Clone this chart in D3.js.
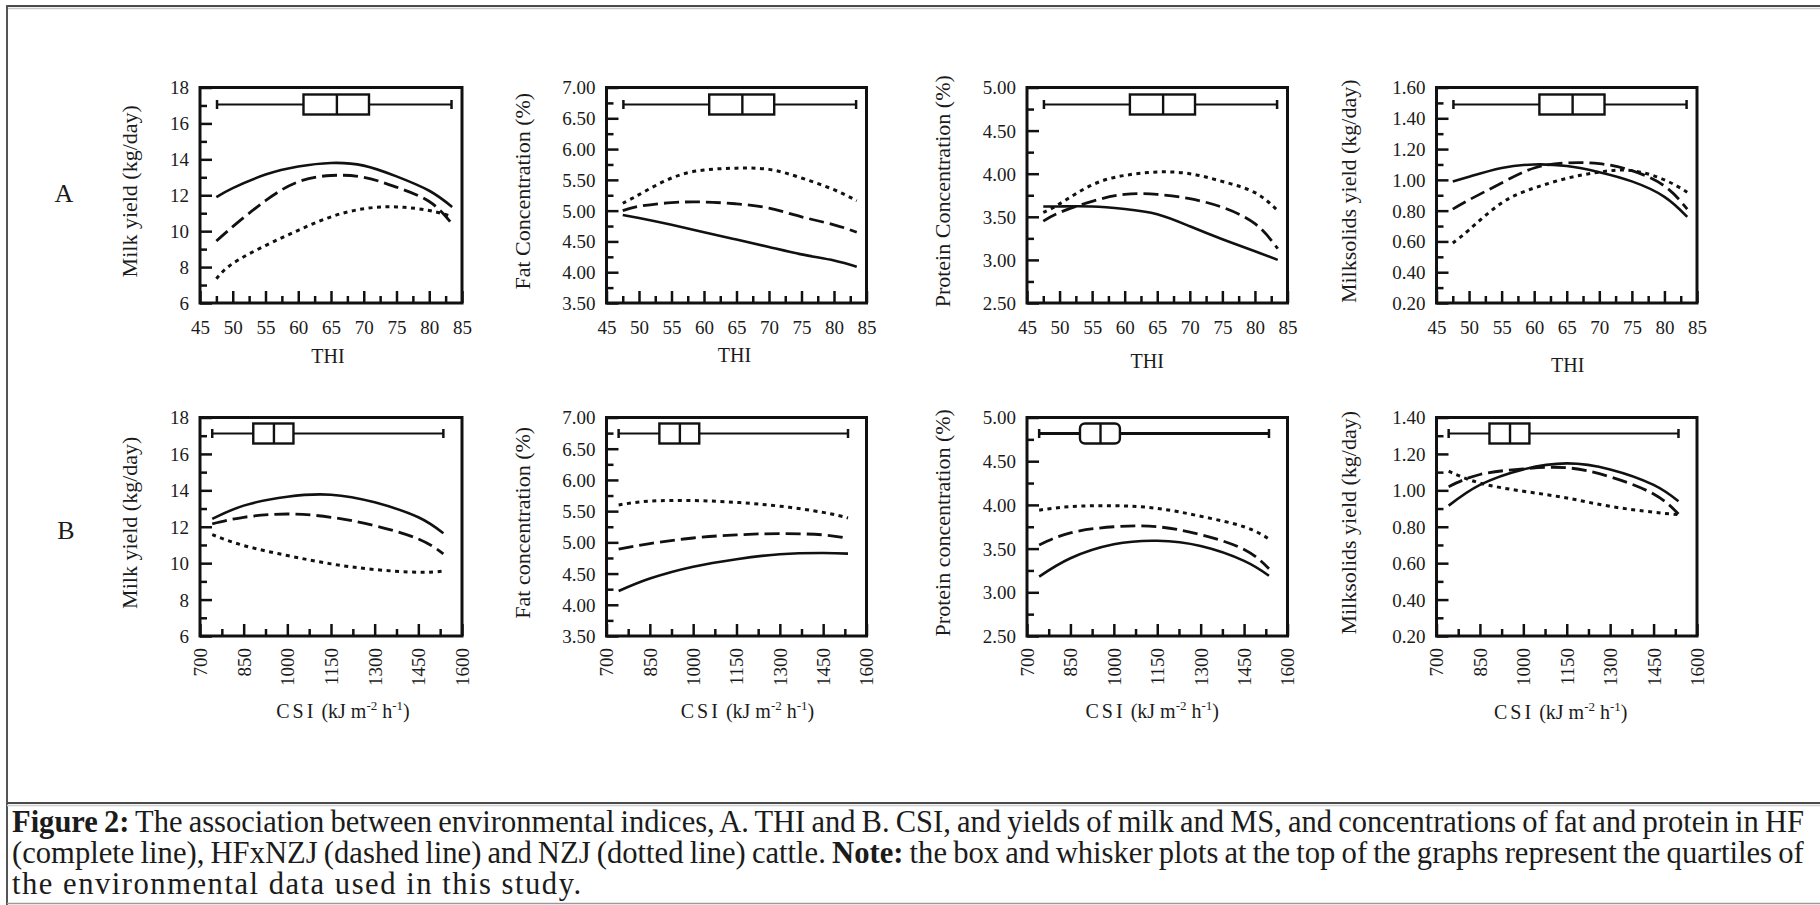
<!DOCTYPE html>
<html>
<head>
<meta charset="utf-8">
<script src="https://cdn.jsdelivr.net/npm/d3@7"></script>
<style>
  html, body { margin: 0; padding: 0; background: #fff; }
  svg { display: block; }
  text { font-family: "Liberation Serif", "Times New Roman", serif; fill: #1b1b1b; }
</style>
</head>
<body>
<svg id="fig" width="1820" height="905"></svg>
<script>
// ---- sample points of the fitted curves ----
const thiX = [47.5, 50, 55, 60, 65, 70, 75, 80, 83.5];
const csiX = [742, 850, 1000, 1150, 1300, 1450, 1536];

// THI panels: HF (solid), HFxNZJ (dashed), NZJ (dotted)
const milkThiHF    = [11.9, 12.4, 13.15, 13.6, 13.8, 13.65, 13.05, 12.25, 11.35];
const milkThiCross = [9.45, 10.25, 11.7, 12.75, 13.1, 13.0, 12.45, 11.65, 10.4];
const milkThiNZJ   = [7.35, 8.2, 9.2, 10.05, 10.8, 11.25, 11.35, 11.15, 10.8];

const fatThiHF    = [4.93, 4.88, 4.77, 4.65, 4.53, 4.41, 4.29, 4.19, 4.09];
const fatThiCross = [5.0, 5.07, 5.13, 5.14, 5.11, 5.04, 4.9, 4.77, 4.65];
const fatThiNZJ   = [5.12, 5.26, 5.53, 5.66, 5.69, 5.67, 5.53, 5.34, 5.16];

const protThiHF    = [3.62, 3.62, 3.62, 3.59, 3.53, 3.39, 3.24, 3.1, 3.0];
const protThiCross = [3.45, 3.55, 3.68, 3.76, 3.76, 3.71, 3.61, 3.42, 3.13];
const protThiNZJ   = [3.55, 3.65, 3.87, 3.98, 4.02, 4.0, 3.91, 3.78, 3.57];

const msThiHF    = [0.99, 1.02, 1.077, 1.1, 1.09, 1.05, 0.99, 0.89, 0.76];
const msThiCross = [0.81, 0.87, 0.98, 1.077, 1.11, 1.105, 1.06, 0.96, 0.81];
const msThiNZJ   = [0.59, 0.675, 0.85, 0.947, 1.01, 1.05, 1.06, 1.0, 0.92];

// CSI panels
const milkCsiHF    = [12.43, 13.16, 13.65, 13.76, 13.34, 12.52, 11.64];
const milkCsiCross = [12.16, 12.52, 12.7, 12.52, 12.06, 11.33, 10.51];
const milkCsiNZJ   = [11.57, 10.97, 10.42, 9.96, 9.65, 9.5, 9.56];

const fatCsiHF    = [4.22, 4.42, 4.61, 4.73, 4.81, 4.83, 4.82];
const fatCsiCross = [4.89, 4.98, 5.07, 5.12, 5.14, 5.12, 5.06];
const fatCsiNZJ   = [5.6, 5.66, 5.67, 5.64, 5.58, 5.48, 5.39];

const protCsiHF    = [3.18, 3.39, 3.55, 3.59, 3.53, 3.36, 3.19];
const protCsiCross = [3.54, 3.68, 3.75, 3.75, 3.66, 3.49, 3.27];
const protCsiNZJ   = [3.94, 3.98, 3.99, 3.96, 3.87, 3.75, 3.61];

const msCsiHF    = [0.916, 1.03, 1.115, 1.148, 1.115, 1.03, 0.94];
const msCsiCross = [1.02, 1.087, 1.118, 1.124, 1.074, 0.98, 0.87];
const msCsiNZJ   = [1.105, 1.04, 0.995, 0.958, 0.912, 0.88, 0.866];

// box-and-whisker summaries of the environmental indices: min, Q1, median, Q3, max
const thiBox = [47.6, 60.8, 65.9, 70.8, 83.4];
const csiBox = [742, 883, 954, 1021, 1536];

// axis tick values
const thiTicks = [45, 50, 55, 60, 65, 70, 75, 80, 85];
const csiTicks = [700, 850, 1000, 1150, 1300, 1450, 1600];
const milkTicks = [6, 8, 10, 12, 14, 16, 18];
const fatTicks = [3.5, 4.0, 4.5, 5.0, 5.5, 6.0, 6.5, 7.0];
const protTicks = [2.5, 3.0, 3.5, 4.0, 4.5, 5.0];
const msThiTicks = [0.2, 0.4, 0.6, 0.8, 1.0, 1.2, 1.4, 1.6];
const msCsiTicks = [0.2, 0.4, 0.6, 0.8, 1.0, 1.2, 1.4];

// axis titles
const yTitlesA = ["Milk yield (kg/day)", "Fat Concentration (%)", "Protein Concentration (%)", "Milksolids yield (kg/day)"];
const yTitlesB = ["Milk yield (kg/day)", "Fat concentration (%)", "Protein concentration (%)", "Milksolids yield (kg/day)"];
const rowLetters = ["A", "B"];
const breeds = ["HF", "HFxNZJ", "NZJ"];

// ---- layout ----
const svg = d3.select("#fig");
const cols = [
  { left: 200, width: 262 },
  { left: 606.5, width: 260 },
  { left: 1027, width: 260.5 },
  { left: 1436.5, width: 260.5 }
];
const rows = [
  { top: 87.5, height: 215.5 },
  { top: 417.5, height: 218.5 }
];
const yTitleOffset = [71, 84, 85, 88];
const xTitleNudgeA = [{ dx: -3, dy: 60 }, { dx: -2, dy: 59 }, { dx: -10, dy: 65 }, { dx: 1, dy: 69 }];
const xTitleNudgeB = [{ dx: 12, dy: 82 }, { dx: 11, dy: 82 }, { dx: -5, dy: 82 }, { dx: -6, dy: 83 }];

const lineStyles = {
  HF:     { dash: null,   width: 2.6 },
  HFxNZJ: { dash: "15,6", width: 2.8 },
  NZJ:    { dash: "4,4.5", width: 3.0 }
};

const panels = [
  { row: 0, col: 0, xs: thiX, series: [milkThiHF, milkThiCross, milkThiNZJ], yTicks: milkTicks, fmt: d3.format("d") },
  { row: 0, col: 1, xs: thiX, series: [fatThiHF, fatThiCross, fatThiNZJ], yTicks: fatTicks, fmt: d3.format(".2f") },
  { row: 0, col: 2, xs: thiX, series: [protThiHF, protThiCross, protThiNZJ], yTicks: protTicks, fmt: d3.format(".2f") },
  { row: 0, col: 3, xs: thiX, series: [msThiHF, msThiCross, msThiNZJ], yTicks: msThiTicks, fmt: d3.format(".2f") },
  { row: 1, col: 0, xs: csiX, series: [milkCsiHF, milkCsiCross, milkCsiNZJ], yTicks: milkTicks, fmt: d3.format("d") },
  { row: 1, col: 1, xs: csiX, series: [fatCsiHF, fatCsiCross, fatCsiNZJ], yTicks: fatTicks, fmt: d3.format(".2f") },
  { row: 1, col: 2, xs: csiX, series: [protCsiHF, protCsiCross, protCsiNZJ], yTicks: protTicks, fmt: d3.format(".2f"), roundBox: true },
  { row: 1, col: 3, xs: csiX, series: [msCsiHF, msCsiCross, msCsiNZJ], yTicks: msCsiTicks, fmt: d3.format(".2f") }
];

// ---- outer frame and caption separator ----
const frame = svg.append("g");
frame.append("line").attr("x1", 7).attr("x2", 1820).attr("y1", 6).attr("y2", 6)
  .attr("stroke", "#4a4a4a").attr("stroke-width", 2.2);
frame.append("line").attr("x1", 7).attr("x2", 1820).attr("y1", 8.5).attr("y2", 8.5)
  .attr("stroke", "#c8c8c8").attr("stroke-width", 1.5);
frame.append("line").attr("x1", 7).attr("x2", 7).attr("y1", 5).attr("y2", 905)
  .attr("stroke", "#555").attr("stroke-width", 2);
frame.append("line").attr("x1", 7).attr("x2", 1820).attr("y1", 803).attr("y2", 803)
  .attr("stroke", "#4a4a4a").attr("stroke-width", 2);
frame.append("line").attr("x1", 7).attr("x2", 1820).attr("y1", 805.5).attr("y2", 805.5)
  .attr("stroke", "#cfcfcf").attr("stroke-width", 1.5);
frame.append("line").attr("x1", 7).attr("x2", 1820).attr("y1", 903.5).attr("y2", 903.5)
  .attr("stroke", "#9a9a9a").attr("stroke-width", 1.5);

// ---- row letters ----
svg.append("text").attr("x", 64).attr("y", 202).attr("text-anchor", "middle")
  .style("font-size", "26px").text(rowLetters[0]);
svg.append("text").attr("x", 66).attr("y", 539).attr("text-anchor", "middle")
  .style("font-size", "26px").text(rowLetters[1]);

// ---- panels ----
panels.forEach(p => {
  const c = cols[p.col], r = rows[p.row];
  const isThi = p.row === 0;
  const g = svg.append("g").attr("transform", `translate(${c.left},${r.top})`);

  const xDomain = isThi ? [45, 85] : [700, 1600];
  const x = d3.scaleLinear().domain(xDomain).range([0, c.width]);
  const yDomain = d3.extent(p.yTicks);
  const y = d3.scaleLinear().domain(yDomain).range([r.height, 0]);

  const xTickVals = isThi ? thiTicks : csiTicks;
  const xStep = xTickVals[1] - xTickVals[0];
  const xMinor = d3.range(xDomain[0] + xStep / 2, xDomain[1], xStep);
  const yStep = p.yTicks[1] - p.yTicks[0];
  const yMinor = d3.range(yDomain[0] + yStep / 2, yDomain[1], yStep);

  // minor ticks
  const yMinorAxis = d3.axisLeft(y).tickValues(yMinor).tickSize(-7).tickFormat("");
  g.append("g").call(yMinorAxis).call(s => s.select(".domain").remove())
    .selectAll("line").attr("stroke", "#111").attr("stroke-width", 2.5);
  const xMinorAxis = d3.axisBottom(x).tickValues(xMinor).tickSize(-7).tickFormat("");
  g.append("g").attr("transform", `translate(0,${r.height})`).call(xMinorAxis)
    .call(s => s.select(".domain").remove())
    .selectAll("line").attr("stroke", "#111").attr("stroke-width", 2.5);

  // major ticks with labels
  const yAxis = d3.axisLeft(y).tickValues(p.yTicks).tickSize(-12).tickPadding(11).tickFormat(p.fmt);
  const gy = g.append("g").call(yAxis);
  gy.select(".domain").remove();
  gy.selectAll("line").attr("stroke", "#111").attr("stroke-width", 2.5);
  gy.selectAll("text").attr("fill", "#1b1b1b").style("font-size", "19px")
    .style("font-family", '"Liberation Serif", serif').attr("dy", "0.34em");

  const xAxis = d3.axisBottom(x).tickValues(xTickVals).tickSize(-12).tickPadding(18).tickFormat(d3.format("d"));
  const gx = g.append("g").attr("transform", `translate(0,${r.height})`).call(xAxis);
  gx.select(".domain").remove();
  gx.selectAll("line").attr("stroke", "#111").attr("stroke-width", 2.5);
  gx.selectAll("text").attr("fill", "#1b1b1b").style("font-size", "19px")
    .style("font-family", '"Liberation Serif", serif');
  if (!isThi) {
    gx.selectAll("text")
      .attr("transform", "rotate(-90)")
      .attr("text-anchor", "end")
      .attr("x", -12).attr("y", 0).attr("dy", "0.34em");
  }

  // plot frame
  g.append("rect").attr("x", 0).attr("y", 0).attr("width", c.width).attr("height", r.height)
    .attr("fill", "none").attr("stroke", "#111").attr("stroke-width", 3);

  // curves
  const line = d3.line().curve(d3.curveNatural)
    .x(d => x(d[0])).y(d => y(d[1]));
  p.series.forEach((vals, i) => {
    const st = lineStyles[breeds[i]];
    g.append("path")
      .datum(p.xs.map((xv, k) => [xv, vals[k]]))
      .attr("d", line)
      .attr("fill", "none")
      .attr("stroke", "#111")
      .attr("stroke-width", st.width)
      .attr("stroke-dasharray", st.dash)
      .attr("stroke-linecap", "butt");
  });

  // box and whisker of the environmental index
  const b = isThi ? thiBox : csiBox;
  const wy = isThi ? 17 : 16;
  const bTop = wy - 10, bH = 20;
  const bw = g.append("g").attr("stroke", "#111").attr("fill", "none");
  const wWidth = p.roundBox ? 3 : 2.2;
  bw.append("line").attr("x1", x(b[0])).attr("x2", x(b[1])).attr("y1", wy).attr("y2", wy).attr("stroke-width", wWidth);
  bw.append("line").attr("x1", x(b[3])).attr("x2", x(b[4])).attr("y1", wy).attr("y2", wy).attr("stroke-width", wWidth);
  [b[0], b[4]].forEach(v => {
    bw.append("line").attr("x1", x(v)).attr("x2", x(v)).attr("y1", wy - 4.5).attr("y2", wy + 4.5).attr("stroke-width", 2.5);
  });
  bw.append("rect").attr("x", x(b[1])).attr("y", bTop).attr("width", x(b[3]) - x(b[1])).attr("height", bH)
    .attr("rx", p.roundBox ? 5 : 0).attr("fill", "#fff").attr("stroke-width", 2.4);
  bw.append("line").attr("x1", x(b[2])).attr("x2", x(b[2])).attr("y1", bTop).attr("y2", bTop + bH).attr("stroke-width", 2.4);

  // y-axis title
  const yTitle = (isThi ? yTitlesA : yTitlesB)[p.col];
  g.append("text")
    .attr("transform", `translate(${-yTitleOffset[p.col]},${r.height / 2 - 4}) rotate(-90)`)
    .attr("text-anchor", "middle").attr("dy", "0.35em")
    .style("font-size", "22px").text(yTitle);

  // x-axis title
  const nudge = (isThi ? xTitleNudgeA : xTitleNudgeB)[p.col];
  const xt = g.append("text")
    .attr("x", c.width / 2 + nudge.dx).attr("y", r.height + nudge.dy)
    .attr("text-anchor", "middle").style("font-size", "20px");
  if (isThi) {
    xt.text("THI");
  } else {
    xt.append("tspan").attr("letter-spacing", "3px").text("CSI");
    xt.append("tspan").text(" (kJ m");
    xt.append("tspan").attr("dy", -8).style("font-size", "13px").text("-2");
    xt.append("tspan").attr("dy", 8).text(" h");
    xt.append("tspan").attr("dy", -8).style("font-size", "13px").text("-1");
    xt.append("tspan").attr("dy", 8).text(")");
  }
});

// ---- caption: first two lines justified, last line set with the same glyph scale ----
const capLeft = 12;
const capRights = [1805, 1805, 583];
const capLines = [
  [{ b: true, t: "Figure 2:" }, { b: false, t: " The association between environmental indices, A. THI and B. CSI, and yields of milk and MS, and concentrations of fat and protein in HF" }],
  [{ b: false, t: "(complete line), HFxNZJ (dashed line) and NZJ (dotted line) cattle. " }, { b: true, t: "Note:" }, { b: false, t: " the box and whisker plots at the top of the graphs represent the quartiles of" }],
  [{ b: false, t: "the environmental data used in this study." }]
];
const capBase = [832, 863, 894];
let glyphScale = 1;
capLines.forEach((parts, i) => {
  const target = capRights[i] - capLeft;
  const str = parts.map(pt => pt.t).join("");
  const t = svg.append("text").attr("x", 0).attr("y", 0)
    .style("font-size", "31px").attr("xml:space", "preserve").style("white-space", "pre");
  parts.forEach(pt => t.append("tspan").style("font-weight", pt.b ? "bold" : "normal").text(pt.t));
  const w0 = t.node().getComputedTextLength();
  if (i < 2) {
    const nSpaces = str.split(" ").length - 1;
    if (w0 > target && nSpaces > 0) {
      t.style("word-spacing", Math.max(-(w0 - target) / nSpaces, -1.5) + "px");
    }
    glyphScale = target / t.node().getComputedTextLength();
  } else {
    const extra = target / glyphScale - w0;
    if (extra > 0) t.style("letter-spacing", (extra / str.length) + "px");
  }
  t.attr("transform", `translate(${capLeft},${capBase[i]}) scale(${glyphScale},1)`);
});
</script>
</body>
</html>
